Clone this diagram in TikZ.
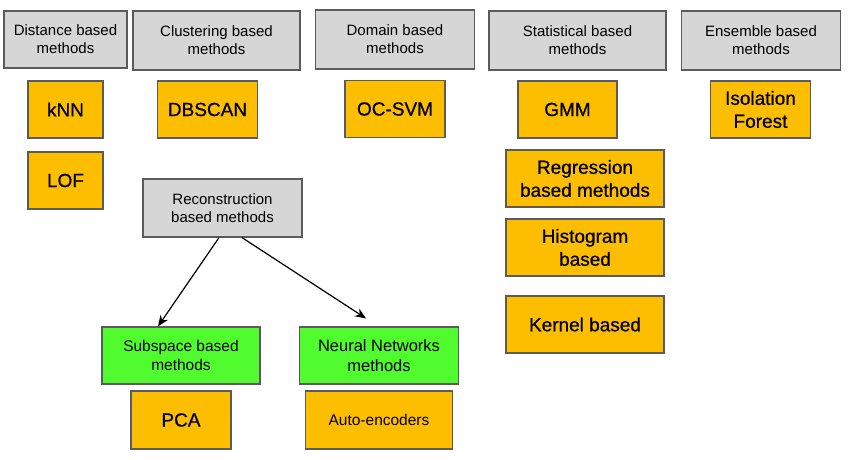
\documentclass[tikz,border=0pt]{standalone}
\usepackage{fontspec}
\setmainfont{Liberation Sans}
\newfontfamily\medfont{Liberation Sans}[FakeBold=0.7]
\usetikzlibrary{arrows.meta,calc}
\definecolor{hdrgray}{HTML}{D6D6D6}
\definecolor{itemorange}{HTML}{FEBE00}
\definecolor{subgreen}{HTML}{50FB2E}
\definecolor{edgegray}{HTML}{5B5B5B}
\begin{document}
\begin{tikzpicture}[x=1pt,y=-1pt,
  base/.style={draw=edgegray,line width=1.2pt,align=center,inner sep=0pt,text=black},
  hdr/.style={base,fill=hdrgray,font=\fontsize{15}{18}\selectfont},
  item/.style={base,fill=itemorange,font=\medfont\fontsize{19}{23}\selectfont},
  grn/.style={base,fill=subgreen,font=\fontsize{15.5}{18.5}\selectfont},
  arr/.style={-{Stealth[length=11pt,width=9pt]},line width=1.2pt,black}]
\useasboundingbox (0,0) rectangle (849,460);
% headers
\node[hdr,minimum width=123pt,minimum height=57pt] (dist) at (65.5,39.5) {Distance based\\methods};
\node[hdr,minimum width=167pt,minimum height=59pt] (clus) at (216.5,40.5) {Clustering based\\methods};
\node[hdr,minimum width=159pt,minimum height=59pt] (dom) at (395,39.5) {Domain based\\methods};
\node[hdr,minimum width=177pt,minimum height=59pt] (stat) at (577.5,40.5) {Statistical based\\methods};
\node[hdr,minimum width=159pt,minimum height=59pt] (ens) at (761,40.5) {Ensemble based\\methods};
\node[hdr,minimum width=159pt,minimum height=58pt] (rec) at (222.5,208) {Reconstruction\\based methods};
% items
\node[item,minimum width=75pt,minimum height=57pt] (knn) at (65.5,109.5) {kNN};
\node[item,minimum width=75pt,minimum height=57pt] (lof) at (65.5,180.5) {LOF};
\node[item,minimum width=100pt,minimum height=57pt] (dbscan) at (207.5,109.5) {DBSCAN};
\node[item,minimum width=100pt,minimum height=57pt] (ocsvm) at (395,109) {OC-SVM};
\node[item,minimum width=99pt,minimum height=57pt] (gmm) at (567.5,109.5) {GMM};
\node[item,minimum width=100pt,minimum height=57pt] (iso) at (760.5,109.5) {Isolation\\Forest};
\node[item,minimum width=158pt,minimum height=57pt] (regr) at (585,178.5) {Regression\\based methods};
\node[item,minimum width=158pt,minimum height=57pt] (hist) at (585,247.5) {Histogram\\based};
\node[item,minimum width=158pt,minimum height=57pt] (kern) at (585,324.5) {Kernel based};
% green
\node[grn,minimum width=158pt,minimum height=57pt] (sub) at (181,355.5) {Subspace based\\methods};
\node[grn,minimum width=159pt,minimum height=57pt,font=\fontsize{16.5}{19.5}\selectfont] (nn) at (379,355.5) {Neural Networks\\methods};
\node[item,minimum width=100pt,minimum height=58pt] (pca) at (181,420) {PCA};
\node[item,minimum width=147pt,minimum height=58pt,font=\fontsize{15.5}{18.5}\selectfont] (ae) at (379,420) {Auto-encoders};
% arrows
\draw[arr] ([xshift=-3.5pt]rec.south) -- ([xshift=-23pt]sub.north);
\draw[arr] ([xshift=19.5pt]rec.south) -- ([xshift=-13pt,yshift=8pt]nn.north);
\end{tikzpicture}
\end{document}
